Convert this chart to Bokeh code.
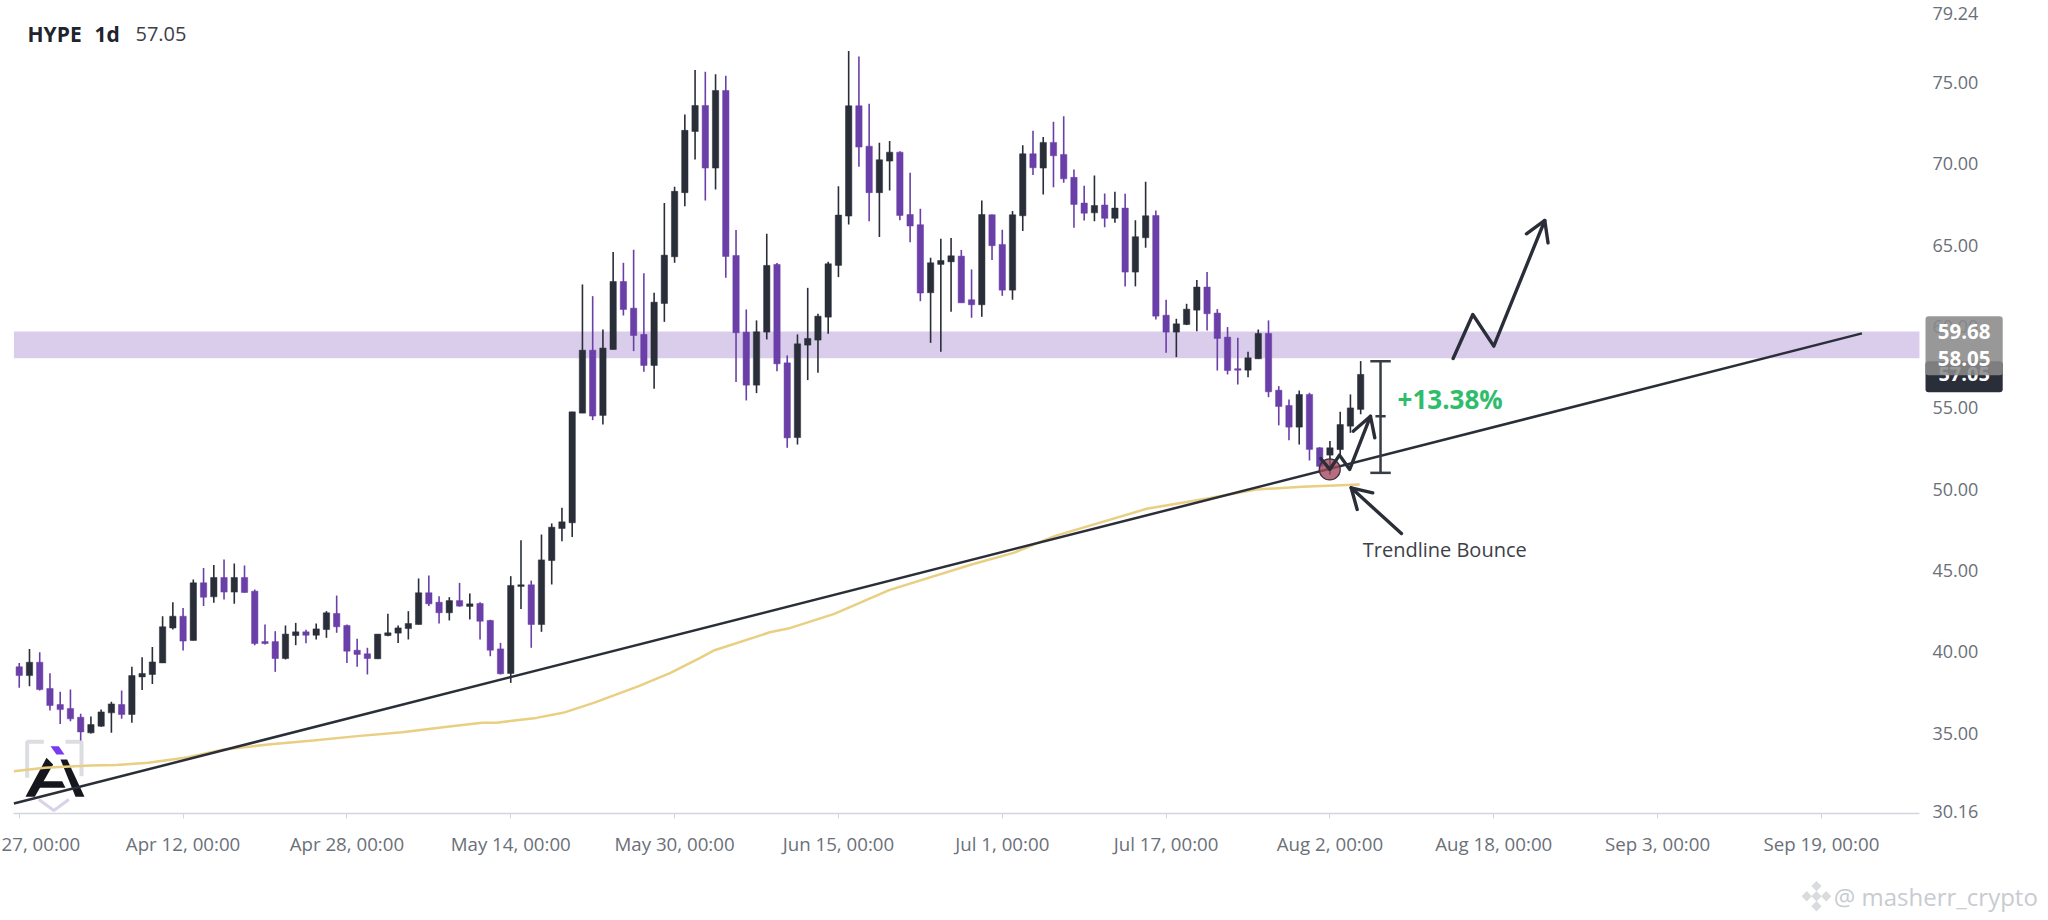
from bokeh.plotting import figure
from bokeh.models import (ColumnDataSource, Range1d, FixedTicker, Label, BoxAnnotation, PolyAnnotation, LinearAxis)
from bokeh.embed import file_html
from bokeh.resources import INLINE

opens = [39.08,38.54,39.36,37.75,36.76,36.52,35.98,35.02,35.43,36.25,
 36.76,36.15,38.46,38.61,39.32,41.47,42.19,40.70,44.24,43.38,
 44.57,43.67,44.57,43.73,40.63,40.63,39.59,41.00,41.23,41.02,
 41.37,42.36,41.62,40.10,39.88,39.57,41.00,41.15,41.43,41.68,
 43.63,43.05,42.40,43.15,42.79,42.97,41.93,40.18,38.67,44.02,
 44.12,41.68,45.61,47.58,47.93,54.67,58.54,54.53,58.58,62.76,
 61.12,59.51,57.60,61.41,64.28,68.22,71.98,73.58,69.73,74.50,
 64.36,59.65,56.39,59.65,63.81,57.76,53.17,58.85,59.16,60.57,
 63.75,66.78,73.56,71.08,68.22,70.16,70.71,66.88,66.25,62.07,
 63.81,63.97,64.32,61.64,61.33,66.86,65.04,62.23,66.80,70.61,
 69.73,71.31,70.57,69.16,67.58,66.98,67.46,66.64,67.27,63.34,
 65.45,66.82,60.69,59.65,60.12,61.00,62.42,60.82,59.34,57.40,
 57.31,58.01,59.57,56.08,55.14,53.81,55.82,52.54,52.09,52.43,
 53.87,54.90]
closes = [38.54,39.36,37.68,36.70,36.45,35.88,35.08,35.53,36.31,36.80,
 36.15,38.54,38.67,39.38,41.54,42.19,40.66,44.24,43.36,44.57,
 43.67,44.57,43.65,40.51,40.51,39.59,41.09,41.23,41.02,41.41,
 42.40,41.54,40.04,39.84,39.59,41.09,41.17,41.47,41.74,43.63,
 42.95,42.40,43.15,42.81,42.95,41.88,40.10,38.65,44.08,44.12,
 41.68,45.65,47.66,47.99,54.75,58.54,54.49,58.67,62.76,61.04,
 59.44,57.60,61.49,64.38,68.30,72.05,73.58,69.73,74.50,64.30,
 59.61,56.39,59.67,63.75,57.70,53.15,58.93,59.26,60.63,63.85,
 66.84,73.56,71.02,68.22,70.24,70.71,66.82,66.17,62.05,63.91,
 64.05,64.34,61.45,61.33,66.88,64.96,62.23,66.86,70.61,69.75,
 71.31,70.49,69.07,67.50,66.96,67.43,66.64,67.27,63.34,65.51,
 66.80,60.63,59.65,60.16,61.06,62.42,60.78,59.26,57.29,57.31,
 58.07,59.57,55.98,55.08,53.81,55.82,52.44,51.40,52.54,53.97,
 54.99,57.05]
highs = [39.32,40.18,39.98,38.69,37.54,37.68,36.19,36.02,36.45,36.93,
 37.62,39.08,39.67,40.29,42.19,43.05,42.70,44.45,45.16,45.33,
 45.68,45.43,45.31,43.83,41.68,41.27,41.62,41.78,41.35,41.74,
 42.50,43.46,41.68,40.80,40.25,41.09,42.34,41.62,42.50,44.51,
 44.69,43.42,43.36,44.24,43.59,43.05,41.97,40.55,44.65,46.86,
 44.38,47.21,47.89,48.85,54.75,62.58,61.86,59.81,64.57,63.91,
 64.71,63.26,62.07,67.58,68.58,73.03,75.76,75.65,75.49,75.41,
 65.92,61.04,60.37,65.69,63.89,58.22,59.51,62.37,60.78,63.97,
 68.62,76.92,76.59,73.68,71.29,71.39,70.77,69.44,67.23,64.22,
 65.39,65.43,64.69,63.50,67.74,66.88,65.94,67.09,71.14,72.03,
 71.64,72.58,72.91,69.65,68.65,69.28,68.17,68.28,68.15,66.53,
 68.89,67.13,61.64,60.47,61.39,62.85,63.34,61.06,59.96,59.30,
 58.44,59.81,60.37,56.33,55.51,56.06,55.92,52.58,52.95,54.75,
 55.82,57.87]
lows = [37.79,37.89,37.62,36.39,35.57,35.74,34.55,34.98,35.39,35.02,
 35.88,35.64,37.66,38.03,39.32,41.37,40.08,40.70,42.81,43.01,
 43.22,42.95,43.63,40.41,40.45,38.77,39.53,40.41,40.53,40.76,
 40.86,41.17,39.32,39.08,38.61,39.57,40.96,40.55,40.76,41.68,
 42.81,41.74,41.93,42.77,41.99,40.76,39.73,38.61,38.09,42.64,
 40.25,41.23,44.14,46.80,47.05,54.67,54.24,53.97,58.58,60.67,
 58.48,57.21,56.17,60.28,63.91,67.39,70.26,67.74,68.42,62.99,
 56.58,55.45,55.90,59.20,57.25,52.54,52.74,56.70,57.15,59.55,
 63.03,66.27,69.81,66.47,65.49,68.36,66.53,65.18,61.55,58.99,
 58.44,60.90,61.45,60.53,60.59,64.08,61.88,61.64,65.86,69.30,
 68.11,68.56,68.83,66.06,66.51,66.47,66.10,66.37,62.46,62.46,
 64.83,60.43,58.38,58.11,60.08,59.71,59.75,57.29,57.05,56.43,
 56.88,58.01,55.65,53.92,53.01,52.74,51.76,51.10,50.90,52.09,
 53.46,54.60]

ma_days = [-0.52,2.5,6.9,9.5,12.6,16.5,19.97,24.3,28.7,33.0,37.4,41.8,45.2,46.6,50.5,53.1,56.1,60.5,63.6,66.5,
           67.9,73.3,75.1,79.6,84.95,93.0,97.1,101.1,110.1,116.3,120.8,125.3,130.9]
ma_vals = [32.66,32.87,33.01,33.05,33.18,33.52,34.0,34.3,34.55,34.82,35.06,35.39,35.64,35.64,35.94,36.25,36.86,37.89,38.71,39.63,
           40.1,41.2,41.43,42.33,43.79,45.37,46.08,47.11,48.79,49.46,49.98,50.14,50.28]

trend_days = [-0.52, 179.95]
trend_vals = [30.68, 59.57]

band_low, band_high = 58.05, 59.68
last_price = 57.05

y_ticks = [30.16,35,40,45,50,55,60,65,70,75,79.24]
x_tick_days = [0,16,32,48,64,80,96,112,128,144,160,176]
x_tick_labels = ["","Apr 12, 00:00","Apr 28, 00:00","May 14, 00:00","May 30, 00:00","Jun 15, 00:00",
                 "Jul 1, 00:00","Jul 17, 00:00","Aug 2, 00:00","Aug 18, 00:00","Sep 3, 00:00","Sep 19, 00:00"]

zig1_days = [127.1,127.98,128.93,129.93,131.96]
zig1_vals = [51.88,51.21,52.09,51.21,54.48]
zig1_head_days = [130.27,131.96,132.38]
zig1_head_vals = [53.56,54.48,53.15]
zig2_days = [140.03,141.95,144.0,148.98]
zig2_vals = [58.03,60.73,58.79,66.51]
zig2_head_days = [147.19,148.98,149.3]
zig2_head_vals = [65.69,66.51,65.13]
bounce_days = [134.98,130.07]
bounce_vals = [47.27,50.08]
bounce_head_days = [132.18,130.07,130.66]
bounce_head_vals = [49.77,50.08,48.75]
bracket_day, bracket_low, bracket_mid, bracket_high = 132.94, 51.0, 54.48, 57.86

DARK = "#2a2e39"
PURPLE = "#6a3fa8"
GRAY = "#6b7079"
FONT = "Open Sans"
FRAME_L, FRAME_R, FRAME_B = -0.52, 185.57, 30.08

days = list(range(len(opens)))
colors = [DARK if c >= o else PURPLE for o, c in zip(opens, closes)]
src = ColumnDataSource(dict(x=days, o=opens, c=closes, h=highs, l=lows, color=colors))

p = figure(width=2040, height=912, output_backend="svg", toolbar_location=None,
           x_range=Range1d(-1.83, 197.39), y_range=Range1d(23.98, 80.03),
           x_axis_location=None, y_axis_location=None, min_border=0,
           background_fill_color="white", border_fill_color="white", outline_line_color=None)
p.grid.visible = False

ax = LinearAxis(fixed_location=FRAME_B, bounds=(FRAME_L, FRAME_R), ticker=FixedTicker(ticks=x_tick_days))
ax.major_label_overrides = dict(zip(x_tick_days, x_tick_labels))
ax.axis_line_color = "#d3d7dd"; ax.axis_line_width = 1.5
ax.major_tick_line_color = "#d3d7dd"; ax.major_tick_in = 0; ax.major_tick_out = 5
ax.minor_tick_line_color = None
ax.major_label_text_font = FONT; ax.major_label_text_font_size = "18.7px"
ax.major_label_text_color = GRAY; ax.major_label_standoff = 13
p.add_layout(ax, "below")

ay = LinearAxis(fixed_location=FRAME_R, ticker=FixedTicker(ticks=y_ticks))
ay.major_label_overrides = {t: f"{t:.2f}" for t in y_ticks}
ay.axis_line_color = None; ay.major_tick_line_color = None; ay.minor_tick_line_color = None
ay.major_tick_in = 0; ay.major_tick_out = 0
ay.major_label_text_font = FONT; ay.major_label_text_font_size = "18px"
ay.major_label_text_color = GRAY; ay.major_label_standoff = 13
p.add_layout(ay, "right")

# logo: local 0..270 box mapped through the chart scales
def lx(v): return ((10 + v / 3) - 18.75) / 10.24
def ly(v): return 35 + (732 - (730 + v / 3)) / 16.27
def lpts(pts): return [lx(a) for a, b in pts], [ly(b) for a, b in pts]
for pts in ([(100,32),(50,32),(50,140)], [(165,32),(213,32),(213,135)]):
    xs, ys = lpts(pts)
    p.line(xs, ys, line_color="#dcdde0", line_width=4)
xs, ys = lpts([(85,205),(130,238),(175,205)])
p.line(xs, ys, line_color="#d9d3ea", line_width=3)
for pts, col in (([(108,80),(128,100),(73,197),(45,197)], "#15171c"),
                 ([(150,85),(170,85),(222,197),(195,197)], "#15171c"),
                 ([(80,150),(155,150),(165,170),(70,170)], "#15171c"),
                 ([(120,45),(145,45),(162,70),(138,70)], "#7c3aed")):
    xs, ys = lpts(pts)
    p.patch(xs, ys, fill_color=col, line_color=None)

# resistance band
p.quad(left=[FRAME_L], right=[FRAME_R], bottom=[band_low], top=[band_high],
       fill_color="#d9cdeb", line_color=None)

# moving average
p.line(ma_days, ma_vals, line_color="#e8cf82", line_width=2.5)

# candles
p.segment("x", "h", "x", "l", source=src, line_color="color", line_width=1.6)
p.vbar("x", 0.62, "o", "c", source=src, fill_color="color", line_color="color", line_width=0.5)

# trendline
p.line(trend_days, trend_vals, line_color=DARK, line_width=2.5)

# bounce marker
p.scatter([127.98], [51.21], size=21, marker="circle", fill_color="#a3485f", fill_alpha=0.8,
          line_color="#3a2f3d", line_width=1.2)

# drawn arrows
for xs, ys in ((zig1_days, zig1_vals), (zig1_head_days, zig1_head_vals),
               (zig2_days, zig2_vals), (zig2_head_days, zig2_head_vals),
               (bounce_days, bounce_vals), (bounce_head_days, bounce_head_vals)):
    p.line(xs, ys, line_color=DARK, line_width=3.4, line_cap="round", line_join="round")

# measure bracket
p.segment([bracket_day], [bracket_low], [bracket_day], [bracket_high], line_color="#383c47", line_width=2.5)
p.segment([bracket_day-1.0, bracket_day-1.0, bracket_day-0.5],
          [bracket_low, bracket_high, bracket_mid],
          [bracket_day+1.0, bracket_day+1.0, bracket_day+0.5],
          [bracket_low, bracket_high, bracket_mid], line_color="#383c47", line_width=2.5)

def lab(x, y, text, size, color=GRAY, style="normal", align="left"):
    p.add_layout(Label(x=x, y=y, text=text, text_font=FONT, text_font_size=size, text_color=color,
                       text_font_style=style, text_align=align, text_baseline="middle"))

lab(0.81, 77.96, "HYPE", "21px", "#20242c", "bold")
lab(7.35, 77.96, "1d", "21px", "#20242c", "bold")
lab(11.35, 77.96, "57.05", "20px", "#3c4049")
lab(134.6, 55.53, "+13.38%", "26px", "#2fbd6c", "bold")
lab(131.2, 46.31, "Trendline Bounce", "20px", "#3c4049")
lab(-1.73, 28.2, "27, 00:00", "18.7px")
lab(177.2, 24.98, "@ masherr_crypto", "24px", "#c8cbd0")

# price tags
tag_l, tag_r, tag_c = 186.16, 193.7, 189.93
p.add_layout(BoxAnnotation(left=tag_l, right=tag_r, top=57.86, bottom=55.96, fill_color=DARK,
                           fill_alpha=1, line_color=None, border_radius=3))
lab(tag_c, last_price, f"{last_price:.2f}", "20px", "white", "bold", "center")
p.add_layout(BoxAnnotation(left=tag_l, right=tag_r, top=60.63, bottom=57.0, fill_color="#8a8a8a",
                           fill_alpha=0.88, line_color=None, border_radius=3))
lab(tag_c, band_high, f"{band_high:.2f}", "20.5px", "white", "bold", "center")
lab(tag_c, band_low, f"{band_low:.2f}", "20.5px", "white", "bold", "center")

# watermark mark (four small diamonds)
cx, cy = (1816 - 18.75) / 10.24, 35 + (732 - 895) / 16.27
for dx, dy in ((0, 0.62), (0, -0.62), (-0.95, 0), (0.95, 0), (0, 0)):
    r_x, r_y = 0.5, 0.32
    p.add_layout(PolyAnnotation(xs=[cx+dx-r_x, cx+dx, cx+dx+r_x, cx+dx], ys=[cy+dy, cy+dy+r_y, cy+dy, cy+dy-r_y],
                                fill_color="#d9dbde", fill_alpha=1, line_color=None))

open("out.html", "w").write(file_html(p, INLINE))
